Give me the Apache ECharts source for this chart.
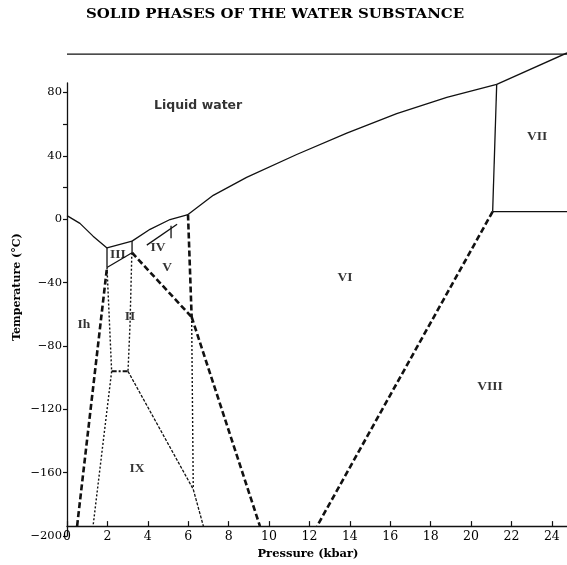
<!DOCTYPE html>
<html>
<head>
<meta charset="utf-8">
<script src="https://cdn.jsdelivr.net/npm/echarts@6/dist/echarts.min.js"></script>
<style>html,body{margin:0;padding:0;background:#fff}#c{width:567px;height:565px}</style>
</head>
<body>
<div id="c"></div>
<script>
// ---- axis ticks ----
const pressureTicks = [0, 2, 4, 6, 8, 10, 12, 14, 16, 18, 20, 22, 24];
const temperatureTicks = [-200, -160, -120, -80, -40, 0, 40, 80];
const minorTemperatureTicks = [20, 60];

// ---- phase boundaries [pressure kbar, temperature °C] ----
const topBoundary = [[0, 104], [24.75, 104]];
const meltIh = [[0, 0], [0.64, -5.0], [1.29, -13.2], [1.98, -20.8]];
const meltIII = [[1.98, -20.8], [3.22, -16.4]];
const meltV = [[3.22, -16.4], [4.11, -8.8], [5.10, -2.5], [5.99, 0.7]];
const meltVI = [[5.99, 0.7], [7.24, 13.1], [8.89, 24.7], [11.37, 39.4], [13.85, 53.1], [16.32, 65.7], [18.8, 76.2], [21.27, 84.6]];
const meltVII = [[21.27, 84.6], [24.75, 104.8]];
const ihIII = [[1.98, -20.8], [1.98, -33.4]];
const iiiII = [[1.98, -33.4], [3.22, -23.9]];
const iiiV = [[3.22, -16.4], [3.22, -23.9]];
const iiV = [[3.22, -23.9], [6.17, -65.3]];
const vVI = [[5.99, 0.7], [6.17, -65.3]];
const ihIIDashed = [[0.5, -200], [1.98, -33.4]];
const ihIIDotted = [[1.98, -33.4], [2.21, -100.3]];
const iiDotted = [[3.21, -23.9], [3.12, -70], [3.02, -100.3]];
const iiIX = [[2.21, -100.3], [3.02, -100.3]];
const ihIXDotted = [[2.21, -100.3], [1.29, -200]];
const ixV = [[3.02, -100.3], [6.25, -176.3], [6.75, -200]];
const vDotted = [[6.17, -65.3], [6.25, -176.3]];
const vIXDashed = [[6.17, -65.3], [9.55, -200]];
const viVIII = [[21.07, 2.6], [12.38, -200]];
const viVII = [[21.27, 84.6], [21.07, 2.6]];
const viiVIII = [[21.07, 2.6], [24.75, 2.6]];
const ivLine = [[3.95, -19.0], [5.45, -5.6]];
const ivTick = [[5.15, -6.5], [5.15, -14.5]];

// ---- region labels ----
const regionNames = ['Liquid water', 'VII', 'VI', 'VIII', 'V', 'IV', 'III', 'II', 'Ih', 'IX'];
const regionP = [6.49, 23.27, 13.76, 20.94, 4.95, 4.5, 2.52, 3.12, 0.84, 3.47];
const regionT = [70.8, 51.2, -39.7, -109.8, -33.4, -20.8, -25.2, -65, -70, -162.8];

const INK = '#111';
const solid = { color: INK, width: 1.3, type: 'solid' };
const heavyDash = { color: INK, width: 2.6, type: [6, 3] };
const dotted = { color: INK, width: 1.4, type: [2, 2] };
const dashDot = { color: INK, width: 2, type: [5, 2, 2, 2] };
const fineDash = { color: INK, width: 1.3, type: [3, 1.5] };

function boundary(name, data, style) {
  return {
    name: name, type: 'line', data: data, xAxisIndex: 0, yAxisIndex: 0,
    showSymbol: false, symbol: 'none', lineStyle: style, silent: true, animation: false, z: 3
  };
}

const series = [
  boundary('top', topBoundary, solid),
  boundary('meltIh', meltIh, solid),
  boundary('meltIII', meltIII, solid),
  boundary('meltV', meltV, solid),
  boundary('meltVI', meltVI, solid),
  boundary('meltVII', meltVII, solid),
  boundary('ihIII', ihIII, solid),
  boundary('iiiII', iiiII, solid),
  boundary('iiiV', iiiV, solid),
  boundary('iiV', iiV, heavyDash),
  boundary('vVI', vVI, heavyDash),
  boundary('ihIIDashed', ihIIDashed, heavyDash),
  boundary('ihIIDotted', ihIIDotted, dotted),
  boundary('iiDotted', iiDotted, dotted),
  boundary('iiIX', iiIX, dashDot),
  boundary('ihIXDotted', ihIXDotted, dotted),
  boundary('ixV', ixV, fineDash),
  boundary('vDotted', vDotted, dotted),
  boundary('vIXDashed', vIXDashed, heavyDash),
  boundary('viVIII', viVIII, heavyDash),
  boundary('viVII', viVII, solid),
  boundary('viiVIII', viiVIII, solid),
  boundary('ivLine', ivLine, solid),
  boundary('ivTick', ivTick, solid),
  {
    name: 'regions', type: 'scatter', xAxisIndex: 0, yAxisIndex: 0,
    symbolSize: 1, itemStyle: { color: 'rgba(0,0,0,0)' }, silent: true, animation: false, z: 5,
    label: {
      show: true, position: 'inside', formatter: '{b}', color: '#000',
      fontFamily: 'Liberation Serif', fontWeight: 'bold', fontSize: 13.5
    },
    data: regionNames.map((n, i) => {
      const item = { name: n, value: [regionP[i], regionT[i]] };
      if (n === 'Liquid water') {
        item.label = { fontFamily: 'DejaVu Sans', fontWeight: 'bold', fontSize: 12.5 };
      }
      return item;
    })
  }
];

const chart = echarts.init(document.getElementById('c'));
chart.setOption({
  animation: false,
  backgroundColor: '#fff',
  graphic: [{
    type: 'text', x: 275, y: 15, scaleX: 1.15, silent: true,
    style: {
      text: 'SOLID PHASES OF THE WATER SUBSTANCE',
      fontFamily: 'DejaVu Serif', fontWeight: 'bold', fontSize: 13,
      fill: '#000', align: 'center', verticalAlign: 'middle'
    }
  }],
  grid: [
    { left: 67, right: 0, top: 48, bottom: 29 },
    { left: 67, right: 0, top: 83, bottom: 29 }
  ],
  xAxis: [{
    type: 'value', gridIndex: 0, min: 0, max: 24.75, interval: 2,
    name: 'Pressure (kbar)', nameLocation: 'middle', nameGap: 17,
    nameTextStyle: { fontFamily: 'DejaVu Serif', fontWeight: 'bold', fontSize: 11.5, color: '#000', padding: [0, 18, 0, 0] },
    axisLine: { show: true, onZero: false, lineStyle: { color: INK, width: 1.4 } },
    axisTick: { show: true, inside: true, length: 5, customValues: pressureTicks, lineStyle: { color: INK, width: 1.2 } },
    axisLabel: { customValues: pressureTicks, margin: 4, fontFamily: 'DejaVu Serif', fontSize: 12.5, color: '#000' },
    splitLine: { show: false }
  }, {
    type: 'value', gridIndex: 1, min: 0, max: 24.75, show: false
  }],
  yAxis: [{
    type: 'value', gridIndex: 0, min: -200, max: 108,
    name: 'Temperature (°C)', nameLocation: 'middle', nameGap: 44,
    nameTextStyle: { fontFamily: 'DejaVu Serif', fontWeight: 'bold', fontSize: 11, color: '#000' },
    axisLine: { show: false }, axisTick: { show: false }, axisLabel: { show: false }, splitLine: { show: false }
  }, {
    type: 'value', gridIndex: 1, min: -200, max: 86, interval: 40,
    axisLine: { show: true, onZero: false, lineStyle: { color: INK, width: 1.3 } },
    axisTick: { show: true, inside: false, length: 4, customValues: temperatureTicks, lineStyle: { color: INK, width: 1.2 } },
    axisLabel: {
      customValues: temperatureTicks, margin: 5, fontFamily: 'DejaVu Serif', fontSize: 11.5, color: '#000',
      formatter: v => (v < 0 ? '\u2212' + (-v) : String(v))
    },
    splitLine: { show: false }
  }, {
    type: 'value', gridIndex: 1, min: -200, max: 86,
    axisLine: { show: false }, axisLabel: { show: false }, splitLine: { show: false },
    axisTick: { show: true, inside: true, length: 4, customValues: minorTemperatureTicks, lineStyle: { color: INK, width: 1.2 } }
  }],
  series: series
});
</script>
</body>
</html>
